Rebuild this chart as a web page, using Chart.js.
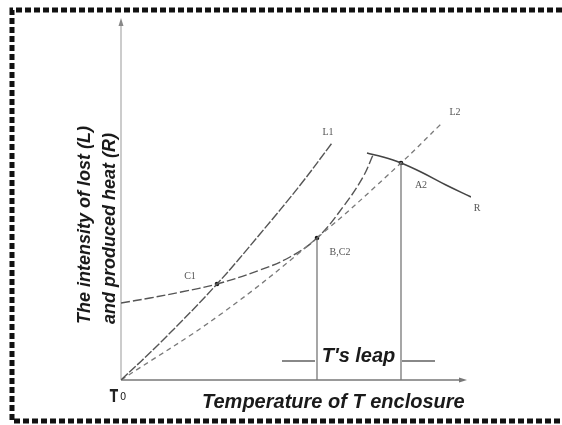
<!DOCTYPE html>
<html>
<head>
<meta charset="utf-8">
<script src="https://cdn.jsdelivr.net/npm/chart.js@4.4.0/dist/chart.umd.min.js"></script>
<style>
  html, body { margin: 0; padding: 0; background: #fff; }
  #wrap { width: 562px; height: 425px; position: relative; }
</style>
</head>
<body>
<div id="wrap"><canvas id="chart" width="562" height="425"></canvas></div>
<script>
// Semenov-style diagram: heat loss lines (L1, L2) vs heat production curve (R)
// values are in arbitrary units
const lossL1 = [[0, 0], [40, 38], [96, 96], [139, 146], [180, 196], [211, 237]];
const lossL2 = [[0, 0], [100, 66], [196, 142], [280, 217], [321, 257]];
const heatR = [[0, 77], [29, 82], [60, 88], [96, 96], [139, 110], [169, 123], [196, 142], [222, 173], [242, 203], [252, 225]];
const heatRTop = [[246, 227], [262, 223], [280, 217], [300, 208], [325, 195], [350, 183]];
const keyPoints = [[96, 96], [196, 142], [280, 217]]; // C1, C2, A2
const leapLevel = 19;
const leapBars = [[161, 194], [281, 314]];
const curveLabels = ['L1', 'L2', 'C1', 'B,C2', 'A2', 'R'];
const curveLabelAt = [[207, 248], [334, 268], [69, 104], [219, 128], [300, 195], [356, 172]];
const xMax = 350;
const yMax = 360;

function pts(arr) {
    return arr.map(p => ({ x: p[0], y: p[1] }));
}

function lineSet(data, color, width, dash, tension) {
    return {
        data: pts(data),
        showLine: true,
        borderColor: color,
        borderWidth: width,
        borderDash: dash,
        pointRadius: 0,
        tension: tension,
        fill: false
    };
}

const datasets = [
    lineSet(lossL1, '#555', 1.4, [9, 2], 0.4),
    lineSet(lossL2, '#7a7a7a', 1.3, [5, 4], 0.4),
    lineSet(heatR, '#555', 1.4, [9, 3], 0.4),
    lineSet(heatRTop, '#444', 1.6, [], 0.4)
];

// drop lines from C2 and A2 to the temperature axis
[keyPoints[1], keyPoints[2]].forEach(p => {
    datasets.push(lineSet([[p[0], 0], p], '#777', 1.3, [], 0));
});

// short bars around the "T's leap" caption
leapBars.forEach(b => {
    datasets.push(lineSet([[b[0], leapLevel], [b[1], leapLevel]], '#888', 2, [], 0));
});

datasets.push({
    data: pts(keyPoints),
    showLine: false,
    pointRadius: 2.3,
    pointBackgroundColor: '#111',
    pointBorderWidth: 0
});

const decorations = {
    id: 'decorations',
    beforeDraw(chart) {
        const ctx = chart.ctx;
        ctx.save();
        ctx.fillStyle = '#fff';
        ctx.fillRect(0, 0, chart.width, chart.height);
        // dashed frame
        ctx.strokeStyle = '#111';
        ctx.lineWidth = 5;
        ctx.setLineDash([6, 3]);
        ctx.beginPath();
        ctx.moveTo(562, 10);
        ctx.lineTo(12, 10);
        ctx.lineTo(12, 421);
        ctx.lineTo(562, 421);
        ctx.stroke();
        ctx.restore();
    },
    beforeDatasetsDraw(chart) {
        const ctx = chart.ctx;
        const x = chart.scales.x, y = chart.scales.y;
        const x0 = x.getPixelForValue(0), y0 = y.getPixelForValue(0);
        const yTop = y.getPixelForValue(yMax);
        const xEnd = x.getPixelForValue(xMax) - 4;
        ctx.save();
        // y axis
        ctx.strokeStyle = '#999';
        ctx.lineWidth = 1;
        ctx.beginPath();
        ctx.moveTo(x0, y0);
        ctx.lineTo(x0, yTop + 4);
        ctx.stroke();
        ctx.fillStyle = '#888';
        ctx.beginPath();
        ctx.moveTo(x0, yTop - 2);
        ctx.lineTo(x0 - 2.5, yTop + 6);
        ctx.lineTo(x0 + 2.5, yTop + 6);
        ctx.closePath();
        ctx.fill();
        // x axis
        ctx.strokeStyle = '#999';
        ctx.lineWidth = 2;
        ctx.beginPath();
        ctx.moveTo(x0, y0);
        ctx.lineTo(xEnd - 6, y0);
        ctx.stroke();
        ctx.fillStyle = '#777';
        ctx.beginPath();
        ctx.moveTo(xEnd, y0);
        ctx.lineTo(xEnd - 8, y0 - 2.5);
        ctx.lineTo(xEnd - 8, y0 + 2.5);
        ctx.closePath();
        ctx.fill();
        ctx.restore();
    },
    afterDraw(chart) {
        const ctx = chart.ctx;
        const x = chart.scales.x, y = chart.scales.y;
        const x0 = x.getPixelForValue(0), y0 = y.getPixelForValue(0);
        ctx.save();
        // small curve labels
        ctx.fillStyle = '#555';
        ctx.font = '10px "Liberation Serif", serif';
        ctx.textAlign = 'center';
        ctx.textBaseline = 'middle';
        curveLabels.forEach((t, i) => {
            ctx.fillText(t, x.getPixelForValue(curveLabelAt[i][0]), y.getPixelForValue(curveLabelAt[i][1]));
        });

        // T's leap caption
        ctx.fillStyle = '#1a1a1a';
        ctx.font = 'italic bold 20px "Liberation Sans", Arial, sans-serif';
        ctx.textAlign = 'center';
        ctx.textBaseline = 'alphabetic';
        const midLeap = (x.getPixelForValue(leapBars[0][1]) + x.getPixelForValue(leapBars[1][0])) / 2;
        ctx.fillText("T's leap", midLeap, y.getPixelForValue(leapLevel) + 1);

        // x axis title
        ctx.textAlign = 'left';
        ctx.fillText('Temperature of T enclosure', 202, 408);

        // y axis title (two lines)
        ctx.font = 'italic bold 18px "Liberation Sans", Arial, sans-serif';
        ctx.translate(0, 324);
        ctx.rotate(-Math.PI / 2);
        ctx.textBaseline = 'middle';
        ctx.fillText('The intensity of lost (L)', 0, 85);
        ctx.fillText('and produced heat (R)', 0, 110);
        ctx.setTransform(1, 0, 0, 1, 0, 0);

        // origin label
        ctx.fillStyle = '#222';
        ctx.textBaseline = 'alphabetic';
        ctx.textAlign = 'right';
        ctx.font = 'bold 17px "DejaVu Sans Condensed", "DejaVu Sans", sans-serif';
        ctx.save();
        ctx.translate(x0 - 3, y0 + 22);
        ctx.scale(0.8, 1);
        ctx.fillText('T', 0, 0);
        ctx.restore();
        ctx.textAlign = 'left';
        ctx.font = '11px "DejaVu Sans Condensed", "DejaVu Sans", sans-serif';
        ctx.fillText('0', x0 - 1, y0 + 20);
        ctx.restore();
    }
};

new Chart(document.getElementById('chart'), {
    type: 'scatter',
    data: { datasets: datasets },
    options: {
        responsive: false,
        animation: false,
        layout: { padding: { left: 121, right: 91, top: 20, bottom: 45 } },
        plugins: { legend: { display: false }, tooltip: { enabled: false } },
        scales: {
            x: { type: 'linear', min: 0, max: xMax, display: false },
            y: { type: 'linear', min: 0, max: yMax, display: false }
        },
        elements: { line: { capBezierPoints: true } }
    },
    plugins: [decorations]
});
</script>
</body>
</html>
